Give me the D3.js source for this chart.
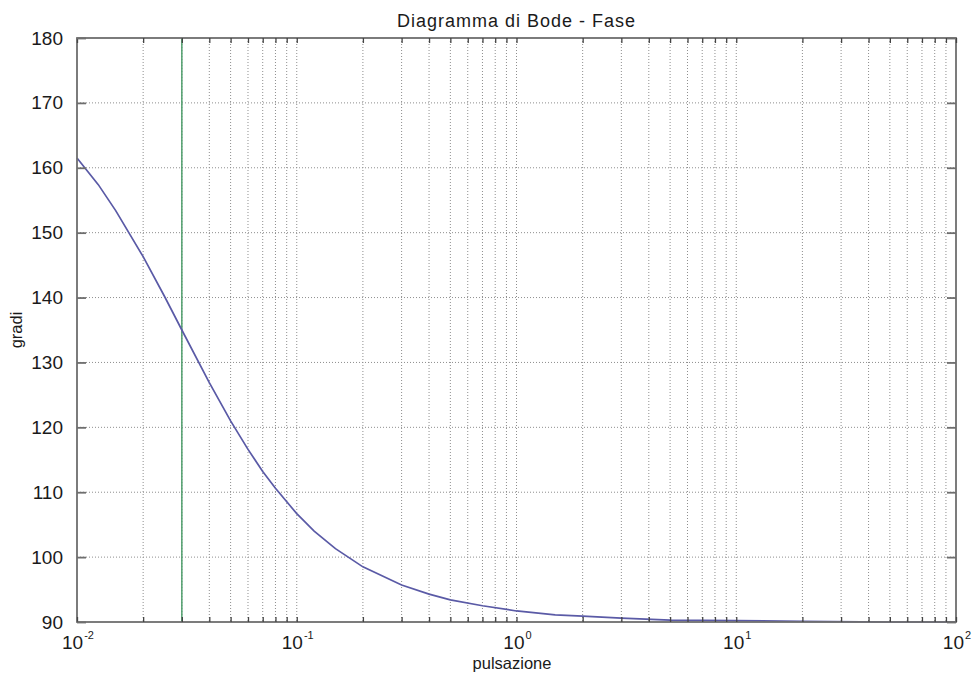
<!DOCTYPE html>
<html>
<head>
<meta charset="utf-8">
<script src="https://cdn.jsdelivr.net/npm/d3@7"></script>
<style>
  html, body { margin: 0; padding: 0; background: #fff; }
  svg { display: block; font-family: "Liberation Sans", Arial, sans-serif; }
</style>
</head>
<body>
<svg id="chart" width="978" height="679"></svg>
<script>
// ---- data ----
const omega = [0.01, 0.0125, 0.015, 0.02, 0.025, 0.03, 0.04, 0.05, 0.06, 0.07, 0.08, 0.1, 0.12, 0.15, 0.2, 0.3, 0.4, 0.5, 0.7, 1, 1.5, 2, 3, 5, 10, 20, 50, 100];
const phase = [161.5, 157.4, 153.4, 146.3, 140.2, 135.0, 126.9, 121.0, 116.6, 113.2, 110.6, 106.7, 104.0, 101.3, 98.5, 95.7, 94.3, 93.4, 92.5, 91.7, 91.1, 90.9, 90.6, 90.3, 90.2, 90.1, 90.0, 90.0];
const markerOmega = [0.03];
const yTicks = [90, 100, 110, 120, 130, 140, 150, 160, 170, 180];
const xDecades = [-2, -1, 0, 1, 2];
const titleText = "Diagramma di Bode - Fase";
const xLabel = "pulsazione";
const yLabel = "gradi";

const svg = d3.select("#chart");
const L = 77, R = 956, T = 38, B = 622;

const x = d3.scaleLog().domain([1e-2, 1e2]).range([L, R]);
const y = d3.scaleLinear().domain([90, 180]).range([B, T]);

// minor positions
const minor = [];
xDecades.slice(0, -1).forEach(e => {
  for (let k = 1; k <= 9; k++) minor.push(k * Math.pow(10, e));
});
minor.push(100);

const gridColor = "#8e8e8e";
// vertical grid
svg.append("g").selectAll("line").data(minor.filter(v => v > 0.01 && v < 100)).join("line")
  .attr("x1", d => x(d)).attr("x2", d => x(d)).attr("y1", T).attr("y2", B)
  .attr("stroke", gridColor).attr("stroke-width", 1).attr("stroke-dasharray", "1,2");
// horizontal grid
svg.append("g").selectAll("line").data(yTicks.filter(v => v > 90 && v < 180)).join("line")
  .attr("x1", L).attr("x2", R).attr("y1", d => y(d)).attr("y2", d => y(d))
  .attr("stroke", gridColor).attr("stroke-width", 1).attr("stroke-dasharray", "1,2");

// green marker line
svg.append("g").selectAll("line").data(markerOmega).join("line")
  .attr("x1", d => x(d)).attr("x2", d => x(d)).attr("y1", T).attr("y2", B)
  .attr("stroke", "#4f9e6c").attr("stroke-width", 1.5);

// curve
const line = d3.line().x((d, i) => x(omega[i])).y(d => y(d));
svg.append("path").datum(phase).attr("d", line)
  .attr("fill", "none").attr("stroke", "#5a5aa6").attr("stroke-width", 1.7);

// axes box
const axisColor = "#6e6e6e";
svg.append("rect").attr("x", L).attr("y", T).attr("width", R - L).attr("height", B - T)
  .attr("fill", "none").attr("stroke", axisColor).attr("stroke-width", 1.8);

// x ticks (inward, bottom and top) via d3 axis
const xAxisB = d3.axisBottom(x).tickValues(minor).tickSize(-5).tickFormat("");
const gxb = svg.append("g").attr("transform", `translate(0,${B})`).call(xAxisB);
const xAxisT = d3.axisTop(x).tickValues(minor).tickSize(-5).tickFormat("");
const gxt = svg.append("g").attr("transform", `translate(0,${T})`).call(xAxisT);
[gxb, gxt].forEach(g => {
  g.select(".domain").remove();
  g.selectAll(".tick line").attr("stroke", "#444").attr("stroke-width", 1.3);
});

// y ticks (inward, left and right)
const yAxisL = d3.axisLeft(y).tickValues(yTicks).tickSize(-9).tickPadding(14).tickFormat(d3.format("d"));
const gyl = svg.append("g").attr("transform", `translate(${L},0)`).call(yAxisL);
gyl.select(".domain").remove();
gyl.selectAll(".tick line").attr("stroke", axisColor).attr("stroke-width", 1.8);
gyl.selectAll(".tick text").attr("font-size", 19).attr("fill", "#1a1a1a")
  .attr("font-family", "Liberation Sans, Arial, sans-serif");
const yAxisR = d3.axisRight(y).tickValues(yTicks).tickSize(-9).tickFormat("");
const gyr = svg.append("g").attr("transform", `translate(${R},0)`).call(yAxisR);
gyr.select(".domain").remove();
gyr.selectAll(".tick line").attr("stroke", axisColor).attr("stroke-width", 1.8);

// x tick labels 10^e
const xl = svg.append("g").selectAll("text").data(xDecades).join("text")
  .attr("x", d => x(Math.pow(10, d)) + 1)
  .attr("y", 649)
  .attr("text-anchor", "middle")
  .attr("fill", "#1a1a1a")
  .attr("font-size", 19);
xl.append("tspan").text("10");
xl.append("tspan").attr("font-size", 11).attr("dy", -10).attr("dx", 1).text(d => d);

// title
svg.append("text").attr("x", (L + R) / 2).attr("y", 27).attr("text-anchor", "middle")
  .attr("font-size", 18).attr("letter-spacing", 1).attr("fill", "#1a1a1a").text(titleText);
// x label
svg.append("text").attr("x", 512).attr("y", 669).attr("text-anchor", "middle")
  .attr("font-size", 16.5).attr("fill", "#1a1a1a").text(xLabel);
// y label
svg.append("text").attr("transform", `translate(22,${(T + B) / 2}) rotate(-90)`)
  .attr("text-anchor", "middle").attr("font-size", 16.5).attr("fill", "#1a1a1a").text(yLabel);
</script>
</body>
</html>
